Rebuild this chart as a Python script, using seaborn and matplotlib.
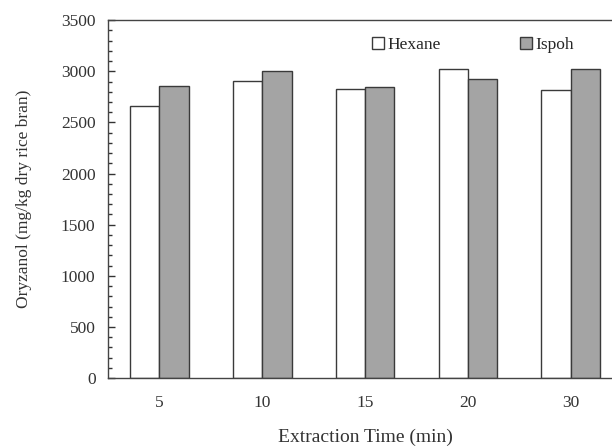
import matplotlib
matplotlib.use('Agg')
import matplotlib.pyplot as plt
from matplotlib.patches import Patch
from matplotlib.ticker import MultipleLocator
import seaborn as sns
import pandas as pd

# data
times = ['5', '10', '15', '20', '30']
hexane = [2660, 2910, 2830, 3020, 2820]
ispoh = [2860, 3000, 2850, 2920, 3020]
solvents = ['Hexane', 'Ispoh']

df = pd.DataFrame({
    'time': times * 2,
    'oryzanol': hexane + ispoh,
    'solvent': ['Hexane'] * len(times) + ['Ispoh'] * len(times),
})

sns.set_style('ticks')
plt.rcParams['font.family'] = ['Liberation Serif', 'DejaVu Serif']

colors = {'Hexane': 'white', 'Ispoh': '#a4a4a4'}
ink = '#333333'

fig = plt.figure(figsize=(6.12, 4.48), dpi=100)
ax = fig.add_axes([0.1765, 0.156, 0.84, 0.799])

sns.barplot(data=df, x='time', y='oryzanol', hue='solvent', order=times,
            hue_order=solvents, palette=colors, width=0.57,
            edgecolor='#3a3a3a', linewidth=1.0, legend=False, ax=ax)

ax.set_ylim(0, 3500)
ax.set_xlim(-0.5, len(times) - 0.5)
ax.yaxis.set_major_locator(MultipleLocator(500))
ax.yaxis.set_minor_locator(MultipleLocator(100))
ax.tick_params(axis='y', which='major', direction='in', length=5, width=1,
               labelsize=12.5, pad=9, colors=ink)
ax.tick_params(axis='y', which='minor', direction='in', length=3, width=1,
               colors=ink)
ax.tick_params(axis='x', length=0, labelsize=12.5, pad=12, colors=ink)
for s in ax.spines.values():
    s.set_color('#444444')
    s.set_linewidth(1.0)

ax.set_xlabel('Extraction Time (min)', fontsize=14, color=ink, labelpad=13)
ax.set_ylabel('Oryzanol (mg/kg dry rice bran)', fontsize=12.5, color=ink, labelpad=21)

handles = [Patch(facecolor=colors[s], edgecolor='#3a3a3a', linewidth=1.0) for s in solvents]
ax.legend(handles, solvents, ncol=2, frameon=False, fontsize=12.5,
          handlelength=0.65, handleheight=0.65, handletextpad=0.2,
          columnspacing=4.6, loc='upper left', bbox_to_anchor=(0.484, 0.997))

fig.savefig('out.png', dpi=100)
